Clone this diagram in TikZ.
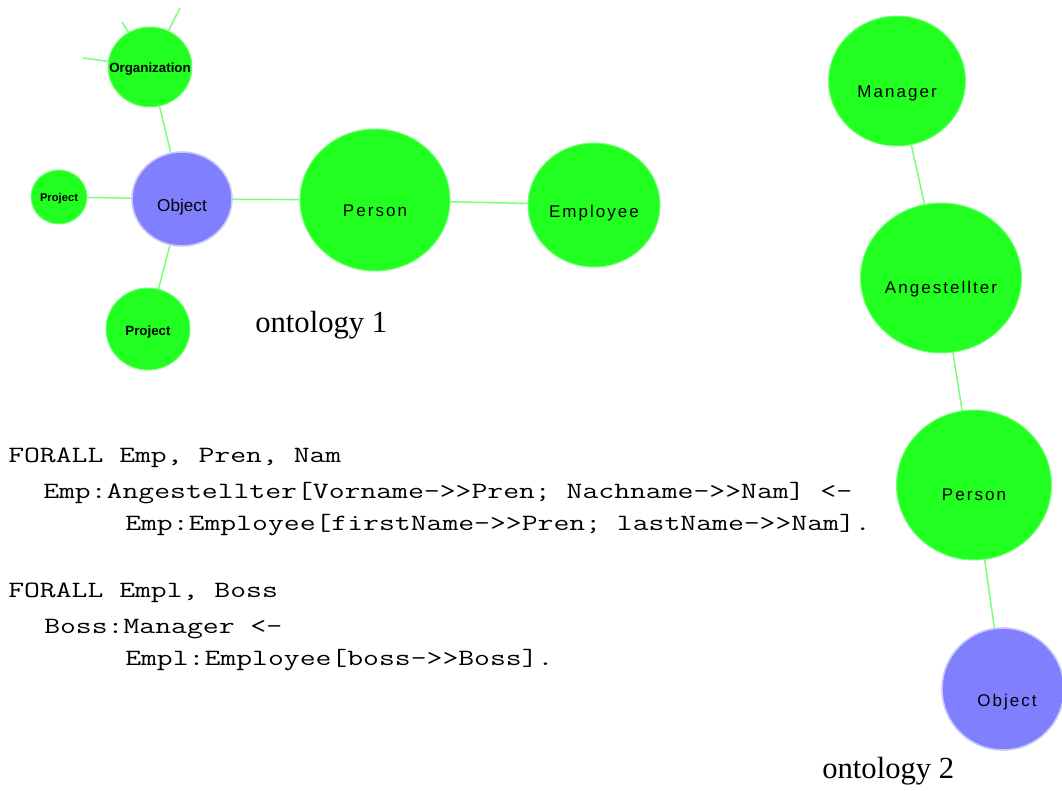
\documentclass[tikz,border=0pt]{standalone}
\usepackage{fontspec}
\setmainfont{Liberation Serif}
\newfontfamily\labfont{Liberation Sans}[LetterSpace=12]
\newfontfamily\labfontn{Liberation Sans}
\newfontfamily\codefont{Latin Modern Mono}[FakeStretch=1.32]
\usetikzlibrary{shapes.geometric}
\definecolor{nodegreen}{RGB}{32,255,32}
\definecolor{edgegreen}{RGB}{120,255,120}
\definecolor{objblue}{RGB}{128,128,255}
\definecolor{objrim}{RGB}{200,200,255}
\begin{document}
\begin{tikzpicture}[x=0.75pt,y=-0.75pt,
  gnode/.style={ellipse, fill=nodegreen, draw=edgegreen, line width=0.75pt, inner sep=0pt},
  bnode/.style={ellipse, fill=objblue, draw=objrim, line width=1.2pt, inner sep=0pt},
  edge/.style={draw=edgegreen, line width=1.1pt},
  codeline/.style={anchor=base west, inner sep=0pt, font=\codefont\fontsize{17.5}{20}\selectfont},
  caption/.style={anchor=base west, inner sep=0pt, font=\fontsize{23}{26}\selectfont},
  big/.style={font=\labfont\fontsize{12.75}{14}\selectfont, inner sep=0pt},
  bign/.style={font=\labfontn\fontsize{12.9}{14}\selectfont, inner sep=0pt},
  small/.style={font=\labfontn\bfseries\fontsize{10}{12}\selectfont, inner sep=0pt},
  tiny/.style={font=\labfontn\bfseries\fontsize{8.4}{10}\selectfont, inner sep=0pt},
]
\useasboundingbox (0,0) rectangle (1062,791);
\clip (0,0) rectangle (1062,791);

% ---------------- ontology 1 ----------------
\node[gnode, minimum width=84*0.75pt, minimum height=80*0.75pt,
      label={[small, yshift=-1.5pt]center:Organization}] (org) at (150,67) {};
\node[bnode, minimum width=100*0.75pt, minimum height=94*0.75pt,
      label={[bign, yshift=-6pt]center:Object}] (obj1) at (182,199) {};
\node[gnode, minimum width=56*0.75pt, minimum height=54*0.75pt,
      label={[tiny, yshift=-1.5pt]center:Project}] (projL) at (59,197) {};
\node[gnode, minimum width=84*0.75pt, minimum height=82*0.75pt,
      label={[small, yshift=-2pt]center:Project}] (projB) at (148,329) {};
\node[gnode, minimum width=150*0.75pt, minimum height=142*0.75pt,
      label={[big, yshift=-8pt]center:Person}] (person1) at (375,200) {};
\node[gnode, minimum width=132*0.75pt, minimum height=124*0.75pt,
      label={[big, yshift=-6pt]center:Employee}] (employee) at (594,205) {};

\coordinate (s1) at (180,8);
\coordinate (s2) at (83,58);
\coordinate (s3) at (122,22);

\draw[edge] (org) -- (obj1);
\draw[edge] (projL) -- (obj1);
\draw[edge] (projB) -- (obj1);
\draw[edge] (obj1) -- (person1);
\draw[edge] (person1) -- (employee);
\draw[edge] (org) -- (s1);
\draw[edge] (org) -- (s2);
\draw[edge] (org) -- (s3);

\node[caption] (cap1) at (255,332) {ontology 1};

% ---------------- ontology 2 ----------------
\node[gnode, minimum width=137*0.75pt, minimum height=130*0.75pt,
      label={[big, yshift=-9pt]center:Manager}] (manager) at (897,81) {};
\node[gnode, minimum width=161*0.75pt, minimum height=150*0.75pt,
      label={[big, yshift=-8pt]center:Angestellter}] (angest) at (941,278) {};
\node[gnode, minimum width=155*0.75pt, minimum height=150*0.75pt,
      label={[big, yshift=-7.5pt]center:Person}] (person2) at (974,485) {};
\node[bnode, minimum width=122*0.75pt, minimum height=122*0.75pt,
      label={[big, yshift=-10pt, xshift=3pt]center:Object}] (obj2) at (1003,689) {};

\draw[edge] (manager) -- (angest);
\draw[edge] (angest) -- (person2);
\draw[edge] (person2) -- (obj2);

\node[caption] (cap2) at (822,778) {ontology 2};

% ---------------- rules ----------------
\node[codeline] (l1) at (8,462) {FORALL Emp, Pren, Nam};
\node[codeline] (l2) at (43,498) {Emp:Angestellter[Vorname->>Pren; Nachname->>Nam] <-};
\node[codeline] (l3) at (125,530) {Emp:Employee[firstName->>Pren; lastName->>Nam].};
\node[codeline] (l4) at (8,597) {FORALL Empl, Boss};
\node[codeline] (l5) at (44,633) {Boss:Manager <-};
\node[codeline] (l6) at (125,665) {Empl:Employee[boss->>Boss].};
\end{tikzpicture}
\end{document}
